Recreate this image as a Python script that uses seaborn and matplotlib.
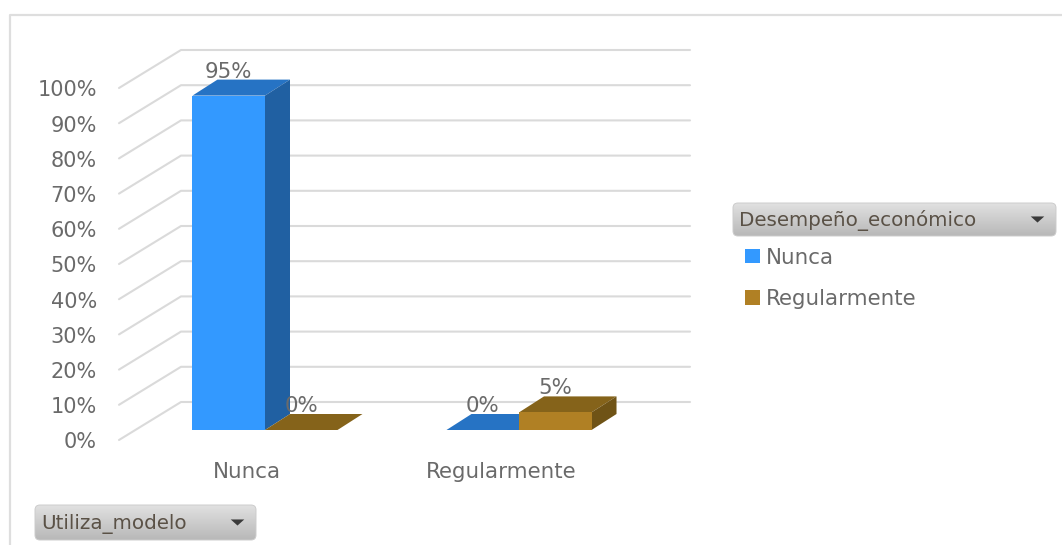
import numpy as np
import pandas as pd
import matplotlib
matplotlib.use("Agg")
import matplotlib.pyplot as plt
import seaborn as sns
from matplotlib.lines import Line2D
from matplotlib.patches import FancyBboxPatch, Polygon
from matplotlib.transforms import Affine2D, IdentityTransform

# ---- data ----
categories = ["Nunca", "Regularmente"]
series_names = ["Nunca", "Regularmente"]
nunca_values = [95, 0]
regular_values = [0, 5]
y_ticks = list(range(0, 101, 10))
legend_title = "Desempeño_económico"
axis_button = "Utiliza_modelo"

# ---- styling ----
W, H = 1062, 545
FONT = "DejaVu Sans"
FS = 15.4
FS_Y = 15.0
TXT = "#6a6a6a"
GRID = "#dadada"
front = {"Nunca": "#3399FF", "Regularmente": "#B08024"}
top = {"Nunca": "#2673C4", "Regularmente": "#85631A"}
side = {"Nunca": "#2060A2", "Regularmente": "#6F5316"}
DEPTH = (25, 16)

sns.set_theme(style="white")
plt.rcParams["font.family"] = [FONT]

df = pd.DataFrame({
    "cat": categories * 2,
    "serie": [series_names[0]] * 2 + [series_names[1]] * 2,
    "val": nunca_values + regular_values,
})

fig = plt.figure(figsize=(W / 100, H / 100), dpi=100)
fig.patch.set_facecolor("white")

# full-figure layer in pixel units for frame and dropdown buttons
ov = fig.add_axes([0, 0, 1, 1], zorder=5)
ov.patch.set_visible(False)
ov.axis("off")

# main axes
L, R, T, B = 119, 690, 49, 440
ax = fig.add_axes([L / W, 1 - B / H, (R - L) / W, (B - T) / H], zorder=2)
ax.patch.set_visible(False)
sns.barplot(data=df, x="cat", y="val", hue="serie", order=categories,
            hue_order=series_names, palette=front, saturation=1, width=0.571,
            gap=0, ax=ax, legend=True, linewidth=0)
sp = 254.0
ppu = 3.52
ax.set_xlim((L - 265) / sp, (R - 265) / sp)
ax.set_ylim(-(B - 430) / ppu, (430 - T) / ppu)
ax.autoscale(False)
ax.set_xlabel("")
ax.set_ylabel("")
sns.despine(ax=ax, left=True, bottom=True, top=True, right=True)

# tick labels belong to the front plane of the fake 3D box
ax.set_yticks(y_ticks)
ax.set_yticklabels([f"{v}%" for v in y_ticks], fontsize=FS_Y, color=TXT)
ax.tick_params(axis="y", length=0, pad=16)
ax.tick_params(axis="x", length=0, pad=15.5)
for lab in ax.get_xticklabels():
    lab.set_fontsize(FS)
    lab.set_color(TXT)
    lab.set_transform(lab.get_transform() + Affine2D().translate(-18, 0))
for lab in ax.get_yticklabels():
    lab.set_transform(lab.get_transform() + Affine2D().translate(0, -10.5))

# walls: gridlines on back plane + diagonals on the left side
x0 = ax.get_xlim()[0]
x1 = ax.get_xlim()[1]
for v in y_ticks:
    a = ax.transData.transform((x0, v))
    b = ax.transData.transform((x1, v))
    ax.add_line(Line2D([a[0], a[0] + 62, b[0]], [a[1] - 10, a[1] + 28, b[1] + 28],
                       transform=IdentityTransform(), color=GRID, lw=1.5,
                       zorder=0.5, clip_on=False))

# bars: extrude each seaborn bar
dx, dy = DEPTH
for name, cont in zip(series_names, ax.containers):
    for bar, val in zip(cont, df.loc[df.serie == name, "val"]):
        bar.set_zorder(3.5)
        (xa, ya), (xb, yb) = ax.transData.transform(
            [(bar.get_x(), 0), (bar.get_x() + bar.get_width(), bar.get_height())])
        ax.add_patch(Polygon([(xa, yb), (xb, yb), (xb + dx, yb + dy), (xa + dx, yb + dy)],
                             closed=True, transform=IdentityTransform(),
                             fc=top[name], ec="none", zorder=3, clip_on=False))
        if val > 0:
            ax.add_patch(Polygon([(xb, ya), (xb + dx, ya + dy), (xb + dx, yb + dy), (xb, yb)],
                                 closed=True, transform=IdentityTransform(),
                                 fc=side[name], ec="none", zorder=3, clip_on=False))
        ax.annotate(f"{val}%", (bar.get_x() + bar.get_width() / 2, val),
                    xytext=(0, 24 * 0.72), textcoords="offset points",
                    ha="center", va="center", fontsize=FS, color=TXT, zorder=4,
                    annotation_clip=False)

# legend from the seaborn handles
handles, labels = ax.get_legend_handles_labels()
ax.legend(handles, labels, loc="upper left", bbox_to_anchor=(736.5 / W, 1 - 239 / H),
          bbox_transform=fig.transFigure, frameon=False, fontsize=FS,
          labelcolor=TXT, handlelength=0.68, handleheight=0.68, handletextpad=0.3,
          labelspacing=1.0, borderpad=0.4, borderaxespad=0)

# frame
ov.add_line(Line2D([10, 10, W], [H, 15, 15], color="#dedede", lw=1.6))

tri = [(-1, 0.45), (1, 0.45), (0, -0.45)]


def button(x, y, w, h, text):
    p = FancyBboxPatch((x + 3, y + 3), w - 6, h - 6, boxstyle="round,pad=3,rounding_size=5",
                       fc="none", ec="#cccccc", lw=0.7, zorder=6)
    ov.add_patch(p)
    grad = np.linspace(0.88, 0.72, 64).reshape(-1, 1)
    im = ov.imshow(grad, extent=(x, x + w, y + h, y), aspect="auto", cmap="gray",
                   vmin=0, vmax=1, zorder=5)
    im.set_clip_path(p)
    ov.text(x + 6, y + h / 2 + 1, text, ha="left", va="center", fontsize=14.35,
            color="#5a5146", zorder=7)
    ov.scatter([x + w - 19], [y + h / 2 - 1], marker=tri, s=95, color="#3a3a3a",
               linewidths=0, zorder=7)


button(733, 203, 323, 33, legend_title)
button(35, 505, 221, 35, axis_button)
ov.set_xlim(0, W)
ov.set_ylim(H, 0)

fig.savefig("out.png", dpi=100, facecolor="white")
